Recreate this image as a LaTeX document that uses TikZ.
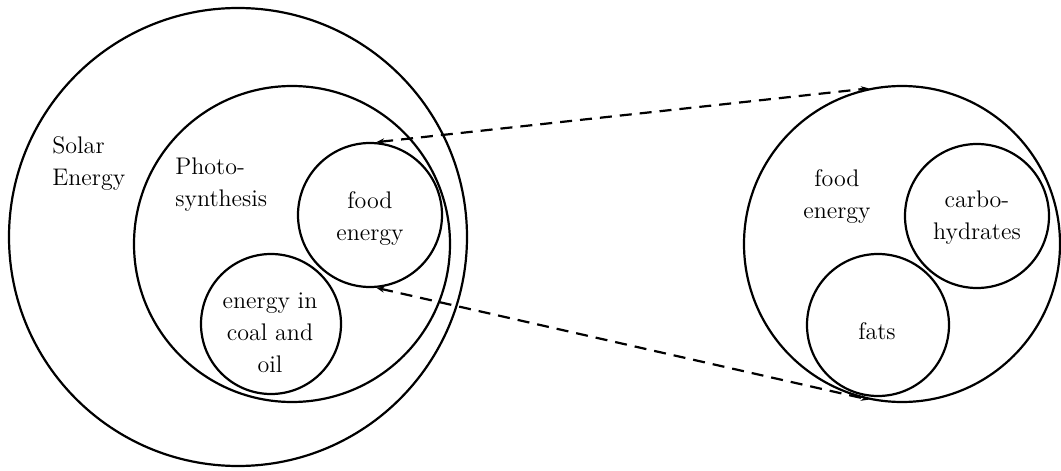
\documentclass[tikz,border=0pt]{standalone}
\usetikzlibrary{arrows.meta}
\begin{document}
\begin{tikzpicture}[x=0.5pt,y=-0.5pt,
  ring/.style={circle,draw,line width=1.1pt,inner sep=0pt},
  lbl/.style={font=\fontsize{12}{16}\selectfont,inner sep=0pt},
  zoomline/.style={line width=1.1pt,dash pattern=on 6pt off 4pt,{Stealth[length=4pt,width=3pt]}-{Stealth[length=4pt,width=3pt]}}]
\useasboundingbox (0,0) rectangle (1061,471);
% left group
\node[ring,minimum size=229pt] (solar) at (238,237) {};
\node[ring,minimum size=158pt] (photo) at (292,244) {};
\node[ring,minimum size=72pt] (food) at (370,215) {};
\node[ring,minimum size=70pt] (coal) at (271,324) {};
% right group
\node[ring,minimum size=158pt] (fe) at (902,244) {};
\node[ring,minimum size=72pt] (carb) at (977,216) {};
\node[ring,minimum size=71pt] (fats) at (878,325) {};
% labels
\node[lbl,anchor=west,align=left] (tsolar) at (52,164) {Solar\\Energy};
\node[lbl,anchor=west,align=left] (tphoto) at (175,185) {Photo-\\synthesis};
\node[lbl,align=center] (tfood) at (370,219) {food\\energy};
\node[lbl,align=center] (tcoal) at (270,333) {energy in\\coal and\\oil};
\node[lbl,align=center] (tfe) at (837,197) {food\\energy};
\node[lbl,align=center] (tcarb) at (977,218) {carbo-\\hydrates};
\node[lbl,align=center] (tfats) at (877,331) {fats};
% zoom connectors
\draw[zoomline] (food.85) -- (fe.102);
\draw[zoomline] (food.275) -- (fe.258);
\end{tikzpicture}
\end{document}
